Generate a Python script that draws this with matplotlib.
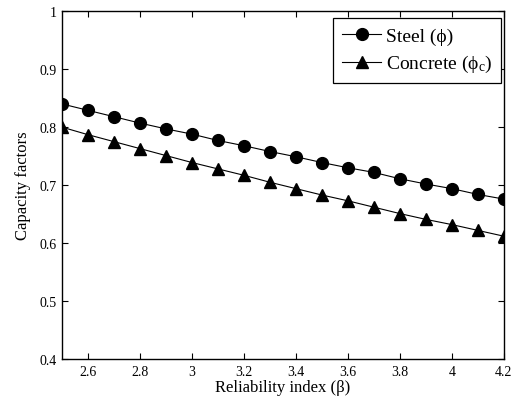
import matplotlib
matplotlib.use("Agg")
import matplotlib.pyplot as plt

beta = [2.5, 2.6, 2.7, 2.8, 2.9, 3.0, 3.1, 3.2, 3.3, 3.4, 3.5, 3.6, 3.7, 3.8, 3.9, 4.0, 4.1, 4.2]
steel = [0.840, 0.829, 0.818, 0.807, 0.797, 0.788, 0.777, 0.768, 0.758, 0.749, 0.739, 0.730, 0.722, 0.711, 0.702, 0.694, 0.684, 0.676]
concrete = [0.800, 0.787, 0.775, 0.763, 0.751, 0.739, 0.728, 0.717, 0.705, 0.694, 0.683, 0.673, 0.662, 0.651, 0.641, 0.632, 0.622, 0.612]
xticks = [2.6, 2.8, 3.0, 3.2, 3.4, 3.6, 3.8, 4.0, 4.2]
xticklabels = ["2.6", "2.8", "3", "3.2", "3.4", "3.6", "3.8", "4", "4.2"]
yticks = [0.4, 0.5, 0.6, 0.7, 0.8, 0.9, 1.0]
yticklabels = ["0.4", "0.5", "0.6", "0.7", "0.8", "0.9", "1"]

plt.rcParams['font.family'] = ['Liberation Serif', 'DejaVu Serif']
plt.rcParams['mathtext.fontset'] = 'custom'
plt.rcParams['mathtext.rm'] = 'Liberation Serif'
plt.rcParams['mathtext.it'] = 'Liberation Serif'

fig = plt.figure(figsize=(5.13, 4.06), dpi=100)
ax = fig.add_axes([0.121, 0.113, 0.861, 0.857])

ax.plot(beta, steel, '-', color='black', lw=0.8, marker='o', ms=8.5, mfc='black', mec='black', label='Steel (ϕ)')
ax.plot(beta, concrete, '-', color='black', lw=0.8, marker='^', ms=9, mfc='black', mec='black', label=r'Concrete (ϕ$_{\rm c}$)')

ax.set_xlim(2.5, 4.2)
ax.set_ylim(0.4, 1.0)
ax.set_xticks(xticks)
ax.set_xticklabels(xticklabels)
ax.set_yticks(yticks)
ax.set_yticklabels(yticklabels)
ax.tick_params(direction='in', top=True, right=True, labelsize=10, length=4, width=0.8, pad=4)
for s in ax.spines.values():
    s.set_linewidth(1.0)

ax.set_xlabel('Reliability index (β)', fontsize=12, labelpad=1)
ax.set_ylabel('Capacity factors', fontsize=12, labelpad=6)

leg = ax.legend(loc='upper right', bbox_to_anchor=(0.994, 0.98), fontsize=14, frameon=True, fancybox=False,
                edgecolor='black', framealpha=1, handlelength=2.0, borderpad=0.45,
                labelspacing=0.45, handletextpad=0.25, borderaxespad=0.0)
leg.get_frame().set_linewidth(0.9)

fig.savefig('out.png', dpi=100)
